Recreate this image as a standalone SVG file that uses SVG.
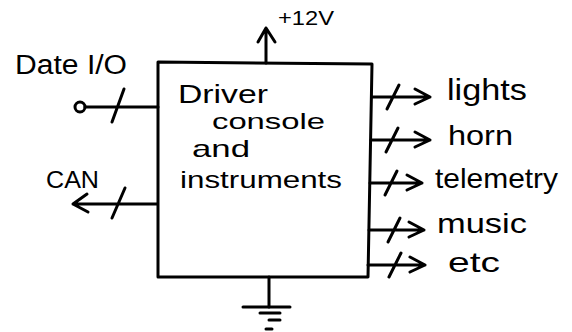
<svg xmlns="http://www.w3.org/2000/svg" width="572" height="332" viewBox="0 0 572 332">
<style>
.s{fill:none;stroke:#000;stroke-width:3;stroke-linecap:round;stroke-linejoin:round}
.t{font-family:"Liberation Sans",Arial,sans-serif;fill:#000}
</style>
<rect width="572" height="332" fill="#fff"/>
<g id="console">
<path class="s" d="M158,62 L372,64 L368,277 L158,277 Z"/>
<text class="t" x="178" y="103" font-size="25" textLength="90" lengthAdjust="spacingAndGlyphs">Driver</text>
<text class="t" x="212" y="129" font-size="22" textLength="113" lengthAdjust="spacingAndGlyphs">console</text>
<text class="t" x="192" y="157" font-size="24" textLength="58" lengthAdjust="spacingAndGlyphs">and</text>
<text class="t" x="180" y="188" font-size="24" textLength="162" lengthAdjust="spacingAndGlyphs">instruments</text>
</g>
<g id="power">
<text class="t" x="278" y="25" font-size="21" textLength="56" lengthAdjust="spacingAndGlyphs">+12V</text>
</g>
<g id="ground">
<path class="s" d="M243,307 L290,307 M260,313 L280,313 M269,320 L280,320 M266,329 L272,329"/>
</g>
<g id="data-io">
<text class="t" x="15" y="74" font-size="27" textLength="112" lengthAdjust="spacingAndGlyphs">Date I/O</text>
<circle class="s" cx="80" cy="107" r="5"/>
</g>
<g id="can">
<text class="t" x="46" y="188" font-size="24" textLength="53" lengthAdjust="spacingAndGlyphs">CAN</text>
</g>
<g id="lights"><text class="t" x="447" y="100" font-size="30" textLength="80" lengthAdjust="spacingAndGlyphs">lights</text></g>
<g id="horn"><text class="t" x="448" y="145" font-size="28" textLength="65" lengthAdjust="spacingAndGlyphs">horn</text></g>
<g id="telemetry"><text class="t" x="435" y="188" font-size="28" textLength="123" lengthAdjust="spacingAndGlyphs">telemetry</text></g>
<g id="music"><text class="t" x="437" y="233" font-size="28" textLength="90" lengthAdjust="spacingAndGlyphs">music</text></g>
<g id="etc"><text class="t" x="448" y="272" font-size="28" textLength="52" lengthAdjust="spacingAndGlyphs">etc</text></g>
<g id="connectors">
<path class="s" d="M266,63 L266,28 M258,42 L266,28 L275,42"/>
<path class="s" d="M269,277 L269,307"/>
<path class="s" d="M85,107 L158,107 M112,122 L124,89"/>
<path class="s" d="M157,204 L73,204 M87,194 L73,204 L88,212 M112,218 L125,188"/>
<path class="s" d="M372,97 L430,97 M415,89 L430,97 L415,104 M387,109 L399,85"/>
<path class="s" d="M371,140 L430,140 M415,132 L430,140 L415,147 M386,152 L398,128"/>
<path class="s" d="M370,183 L422,183 M407,175 L422,183 L407,190 M385,195 L397,171"/>
<path class="s" d="M369,230 L424,230 M409,222 L424,230 L409,237 M388,242 L400,218"/>
<path class="s" d="M368,265 L425,265 M410,257 L425,265 L410,272 M389,277 L401,253"/>
</g>
</svg>
